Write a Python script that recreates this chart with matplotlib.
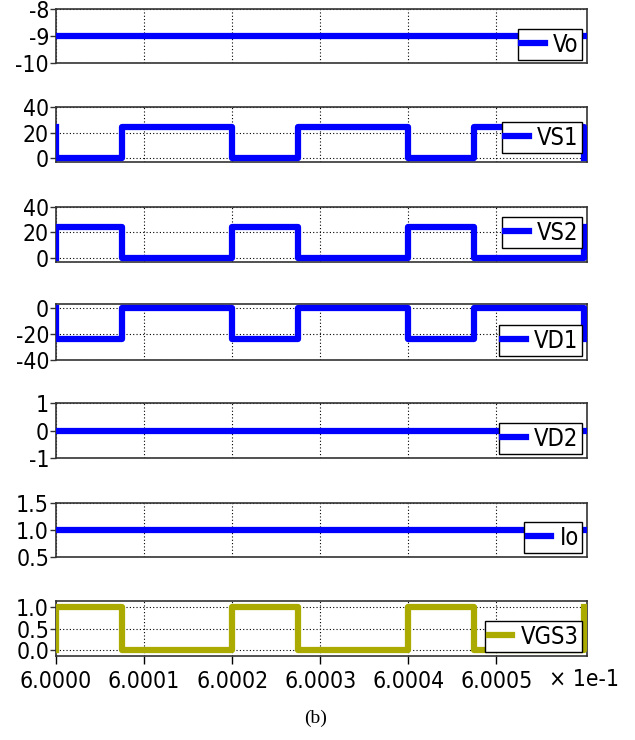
import matplotlib
matplotlib.use("Agg")
import matplotlib.pyplot as plt
from matplotlib import font_manager as fm

# look for a narrow sans font, the reference uses a condensed face
narrow = [f for f in fm.fontManager.ttflist
          if ("Narrow" in f.name or "Condensed" in f.name
              or f.stretch in ("condensed", "semi-condensed", "extra-condensed"))
          and f.weight in (400, "normal", "regular") and f.style == "normal"]
if narrow:
    plt.rcParams['font.family'] = [narrow[0].name, 'DejaVu Sans']
    plt.rcParams['font.stretch'] = narrow[0].stretch
else:
    plt.rcParams['font.family'] = ['DejaVu Sans']

# switching instants (axis units, x 1e-1 s) and levels, steps-post
t_sw = [6.0, 6.0, 6.000075, 6.0002, 6.000275, 6.0004, 6.000475, 6.0006]
vs1 = [24, 0, 24, 0, 24, 0, 24, 0]
vs2 = [0, 24, 0, 24, 0, 24, 0, 24]
vd1 = [0, -24, 0, -24, 0, -24, 0, -24]
vgs3 = [0, 1, 0, 1, 0, 1, 0, 1]

t_dc = [6.0, 6.0006]
vo = [-9, -9]
vd2 = [0, 0]
io = [1.0, 1.0]

x_ticks = [6.0, 6.0001, 6.0002, 6.0003, 6.0004, 6.0005]
x_lim = (6.0, 6.000603)

BLUE = "#0000ff"
OLIVE = "#aaaa00"

# name, x, y, steps?, color, ylim, yticks, yticklabels, legend bottom offset
panels = [
    ("Vo", t_dc, vo, False, BLUE, (-10, -8), [-10, -9, -8], ["-10", "-9", "-8"], 0.05),
    ("VS1", t_sw, vs1, True, BLUE, (-3, 40), [0, 20, 40], ["0", "20", "40"], 0.16),
    ("VS2", t_sw, vs2, True, BLUE, (-3.5, 40), [0, 20, 40], ["0", "20", "40"], 0.25),
    ("VD1", t_sw, vd1, True, BLUE, (-40, 3), [-40, -20, 0], ["-40", "-20", "0"], 0.07),
    ("VD2", t_dc, vd2, False, BLUE, (-1, 1), [-1, 0, 1], ["-1", "0", "1"], 0.07),
    ("Io", t_dc, io, False, BLUE, (0.5, 1.5), [0.5, 1.0, 1.5], ["0.5", "1.0", "1.5"], 0.07),
    ("VGS3", t_sw, vgs3, True, OLIVE, (-0.14, 1.14), [0.0, 0.5, 1.0], ["0.0", "0.5", "1.0"], 0.07),
]

# pixel extents (top, bottom) of each panel
boxes = [(9, 63), (107, 162), (207, 262), (304, 360), (403, 458), (503, 557), (601, 656)]

W, H = 635, 740
fig = plt.figure(figsize=(W / 100, H / 100), dpi=100)

left, right = 56, 587
for i, (name, x, y, steps, col, ylim, yt, ytl, lb) in enumerate(panels):
    top, bot = boxes[i]
    ax = fig.add_axes([left / W, 1 - bot / H, (right - left) / W, (bot - top) / H])
    if steps:
        ax.plot(x, y, color=col, lw=4.5, drawstyle="steps-post", label=name, zorder=3)
    else:
        ax.plot(x, y, color=col, lw=4.5, label=name, zorder=3)
    ax.set_xlim(*x_lim)
    ax.set_ylim(*ylim)
    ax.set_yticks(yt)
    ax.set_yticklabels(ytl, fontsize=16.5)
    ax.set_xticks(x_ticks)
    ax.grid(True, linestyle=(0, (1, 2)), color="black", lw=0.8)
    for s in ax.spines.values():
        s.set_color("#333333")
        s.set_linewidth(1.2)
    ax.tick_params(axis="y", length=4, width=1, pad=1, colors="#333333", labelcolor="black")
    if i == len(panels) - 1:
        ax.set_xticklabels(["%.4f" % v for v in x_ticks], fontsize=16.5)
        ax.tick_params(axis="x", length=6, width=1, pad=4)
    else:
        ax.tick_params(axis="x", length=0, labelbottom=False)
    leg = ax.legend(loc="lower right", bbox_to_anchor=(0.991, lb), borderaxespad=0,
                    fontsize=17, handlelength=1.0, handletextpad=0.35,
                    borderpad=0.15, fancybox=False, framealpha=1, edgecolor="black")
    leg.get_frame().set_linewidth(1.0)
    leg.set_zorder(5)

fig.text(549 / W, 1 - 679 / H, "× 1e-1", fontsize=16.5, va="center", ha="left")
fig.text(316 / W, 1 - 718 / H, "(b)", fontsize=14, family="Liberation Serif",
         va="center", ha="center")

fig.savefig("out.png", dpi=100)
